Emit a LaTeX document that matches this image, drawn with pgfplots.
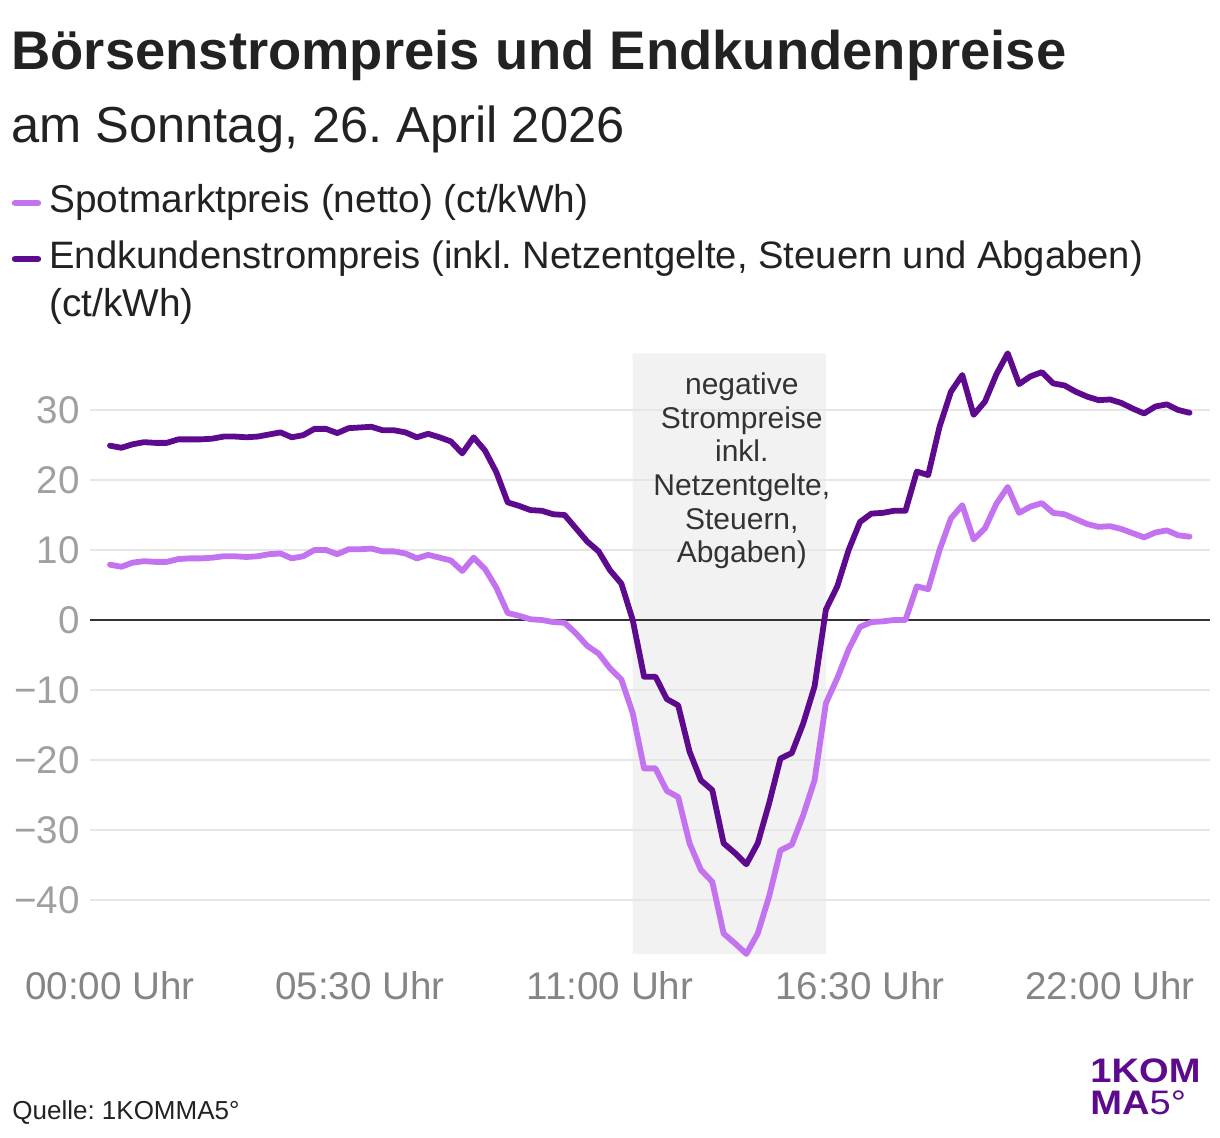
\documentclass[border=0pt]{standalone}
\usepackage{fontspec}
\setmainfont{Liberation Sans}
\usepackage{pgfplots}
\usepackage{pgfplotstable}
\pgfplotsset{compat=1.18}
\frenchspacing

\definecolor{spot}{HTML}{C373F0}
\definecolor{endk}{HTML}{5E0A8E}
\definecolor{gridc}{HTML}{E6E6E6}
\definecolor{shade}{HTML}{F2F2F2}
\definecolor{txt}{HTML}{222222}
\definecolor{note}{HTML}{333333}
\definecolor{xlab}{HTML}{858585}
\definecolor{ylab}{HTML}{A0A0A0}
\definecolor{zero}{HTML}{333333}

% quarter-hourly prices, hour of day / spot (net) / end customer, ct/kWh
\pgfplotstableread{
h spot endk
0.00 7.9 24.9
0.25 7.6 24.6
0.50 8.2 25.1
0.75 8.4 25.4
1.00 8.3 25.3
1.25 8.3 25.3
1.50 8.7 25.8
1.75 8.8 25.8
2.00 8.8 25.8
2.25 8.9 25.9
2.50 9.1 26.2
2.75 9.1 26.2
3.00 9.0 26.1
3.25 9.1 26.2
3.50 9.4 26.5
3.75 9.5 26.8
4.00 8.8 26.1
4.25 9.1 26.4
4.50 10.0 27.3
4.75 10.0 27.3
5.00 9.4 26.7
5.25 10.1 27.4
5.50 10.1 27.5
5.75 10.2 27.6
6.00 9.8 27.1
6.25 9.8 27.1
6.50 9.5 26.8
6.75 8.8 26.1
7.00 9.3 26.6
7.25 8.9 26.1
7.50 8.5 25.5
7.75 7.0 23.8
8.00 8.9 26.1
8.25 7.3 24.2
8.50 4.6 21.1
8.75 1.0 16.8
9.00 0.6 16.3
9.25 0.1 15.7
9.50 0.0 15.6
9.75 -0.3 15.1
10.00 -0.4 15.0
10.25 -1.9 13.1
10.50 -3.7 11.2
10.75 -4.8 9.8
11.00 -6.9 7.1
11.25 -8.5 5.2
11.50 -13.3 0.0
11.75 -21.2 -8.1
12.00 -21.2 -8.1
12.25 -24.4 -11.3
12.50 -25.3 -12.2
12.75 -31.9 -18.8
13.00 -35.7 -22.9
13.25 -37.4 -24.3
13.50 -44.8 -31.9
13.75 -46.2 -33.3
14.00 -47.7 -34.9
14.25 -44.8 -31.9
14.50 -39.5 -26.2
14.75 -32.9 -19.8
15.00 -32.1 -19.0
15.25 -27.9 -14.8
15.50 -22.9 -9.5
15.75 -11.9 1.5
16.00 -8.3 4.8
16.25 -4.2 10.0
16.50 -1.0 14.0
16.75 -0.3 15.2
17.00 -0.2 15.3
17.25 0.0 15.6
17.50 0.0 15.6
17.75 4.8 21.2
18.00 4.4 20.7
18.25 10.0 27.6
18.50 14.5 32.6
18.75 16.4 35.0
19.00 11.5 29.3
19.25 13.1 31.2
19.50 16.6 35.1
19.75 19.0 38.1
20.00 15.3 33.7
20.25 16.2 34.8
20.50 16.7 35.4
20.75 15.3 33.8
21.00 15.1 33.5
21.25 14.4 32.6
21.50 13.7 31.9
21.75 13.3 31.4
22.00 13.4 31.5
22.25 13.0 31.0
22.50 12.4 30.2
22.75 11.8 29.5
23.00 12.5 30.5
23.25 12.8 30.8
23.50 12.1 30.0
23.75 11.9 29.6
}\prices

\begin{document}
\begin{tikzpicture}
\useasboundingbox (0pt,0pt) rectangle (610pt,569pt);

% headline block
\node[anchor=base west, inner sep=0, text=txt, font=\fontsize{27.2}{32}\selectfont\bfseries]
  at (5.5pt,534pt) {Börsenstrompreis und Endkundenpreise};
\node[anchor=base west, inner sep=0, text=txt, font=\fontsize{25.3}{30}\selectfont]
  at (5.5pt,497.5pt) {am Sonntag, 26. April 2026};

% legend
\draw[spot, line width=3.2pt, line cap=round] (7.5pt,467.5pt) -- (19pt,467.5pt);
\node[anchor=base west, inner sep=0, text=txt, font=\fontsize{19.4}{23}\selectfont]
  at (24.5pt,462.5pt) {Spotmarktpreis (netto) (ct/kWh)};
\draw[endk, line width=3.2pt, line cap=round] (7.5pt,439.5pt) -- (19pt,439.5pt);
\node[anchor=base west, inner sep=0, text=txt, font=\fontsize{19.1}{23}\selectfont]
  at (24.5pt,434.5pt) {Endkundenstrompreis (inkl. Netzentgelte, Steuern und Abgaben)};
\node[anchor=base west, inner sep=0, text=txt, font=\fontsize{19.4}{23}\selectfont]
  at (24.5pt,410.5pt) {(ct/kWh)};

\begin{axis}[
  anchor=south west, at={(45pt,92.05pt)},
  x=22.727pt, y=3.5pt,
  xmin=-0.44, xmax=24.2, ymin=-47.7, ymax=38.1,
  clip=false,
  axis line style={draw=none},
  tick style={draw=none},
  major tick length=0pt,
  xtick={0,5.5,11,16.5,22},
  xticklabels={00:00 Uhr,05:30 Uhr,11:00 Uhr,16:30 Uhr,22:00 Uhr},
  ytick={-40,-30,-20,-10,0,10,20,30},
  yticklabels={−40,−30,−20,−10,0,10,20,30},
  xticklabel style={font=\fontsize{19.3}{23}\selectfont, text=xlab, anchor=base, inner sep=0pt, yshift=-23pt},
  yticklabel style={font=\fontsize{19.3}{23}\selectfont, text=ylab, anchor=base east, inner sep=0pt, xshift=-5pt, yshift=-6.9pt},
]
  % window with negative end-customer prices
  \addplot[fill=shade, draw=none]
    coordinates {(11.5,-47.7) (15.75,-47.7) (15.75,38.1) (11.5,38.1) (11.5,-47.7)};
  % horizontal grid
  \foreach \g in {-40,-30,-20,-10,10,20,30} {
    \edef\tmp{\noexpand\addplot[gridc, line width=1pt, forget plot] coordinates {(-0.44,\g) (24.2,\g)};}
    \tmp
  }
  \addplot[zero, line width=1pt] coordinates {(-0.44,0) (24.2,0)};
  \addplot[spot, line width=2.9pt, line join=round, line cap=round] table[x=h, y=spot] {\prices};
  \addplot[endk, line width=2.9pt, line join=round, line cap=round] table[x=h, y=endk] {\prices};
  \node[align=center, text=note, font=\fontsize{15}{16.8}\selectfont, inner sep=0]
    at (axis cs:13.9,21.3) {negative\\Strompreise\\inkl.\\Netzentgelte,\\Steuern,\\Abgaben)};
\end{axis}

% footer
\node[anchor=base west, inner sep=0, text=txt, font=\fontsize{13}{15}\selectfont]
  at (6pt,9pt) {Quelle: 1KOMMA5°};
\node[anchor=base west, inner sep=0, text=endk, font=\fontsize{17}{18}\selectfont\bfseries, xscale=1.12]
  at (545pt,27.5pt) {1KOM};
\node[anchor=base west, inner sep=0, text=endk, font=\fontsize{17}{18}\selectfont, xscale=1.12]
  at (545pt,11.5pt) {\textbf{MA}5°};
\end{tikzpicture}
\end{document}
